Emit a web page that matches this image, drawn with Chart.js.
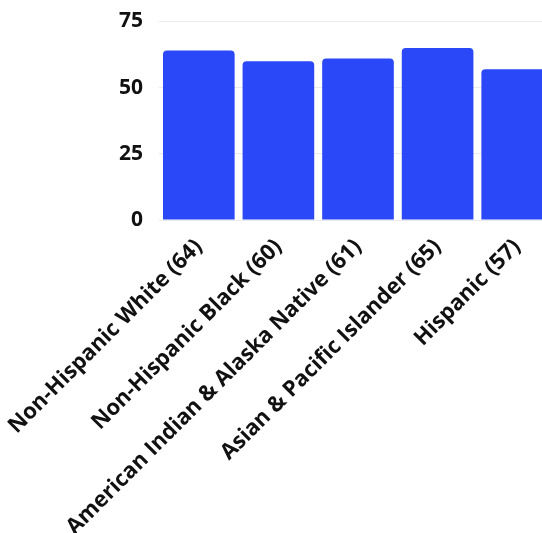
<!DOCTYPE html>
<html>
<head>
<meta charset="utf-8">
<script src="https://cdn.jsdelivr.net/npm/chart.js@4"></script>
<style>
  html, body { margin: 0; padding: 0; background: #fff; overflow: hidden; }
  #wrap { width: 557px; height: 533px; }
</style>
</head>
<body>
<div id="wrap"><canvas id="barChart" width="557" height="533"></canvas></div>
<script>
// categories and values
const groups = [
    "Non-Hispanic White (64)",
    "Non-Hispanic Black (60)",
    "American Indian & Alaska Native (61)",
    "Asian & Pacific Islander (65)",
    "Hispanic (57)"
];
const ages = [64, 60, 61, 65, 57];
const yTicks = [0, 25, 50, 75];

const xFont = { family: "Open Sans", weight: "bold", size: 22 };
const yFont = { family: "Open Sans", weight: "bold", size: 21 };

new Chart(document.getElementById("barChart"), {
    type: "bar",
    data: {
        labels: groups,
        datasets: [{
            data: ages,
            backgroundColor: "#2a47f8",
            borderRadius: 4,
            barPercentage: 0.9,
            categoryPercentage: 1
        }]
    },
    options: {
        responsive: false,
        animation: false,
        layout: { padding: { top: 21.5 } },
        plugins: { legend: { display: false }, tooltip: { enabled: false } },
        scales: {
            x: {
                grid: { display: false },
                border: { display: false },
                afterFit: axis => {
                    axis.height = 313;
                    axis.paddingLeft = 0;
                    axis.paddingRight = 0;
                },
                ticks: {
                    color: "#111",
                    font: xFont,
                    autoSkip: false,
                    minRotation: 45,
                    maxRotation: 45,
                    padding: 6
                }
            },
            y: {
                min: 0,
                max: 75,
                afterBuildTicks: axis => { axis.ticks = yTicks.map(v => ({ value: v })); },
                afterFit: axis => {
                    axis.width = 159;
                    axis.paddingTop = 0;
                    axis.paddingBottom = 0;
                },
                grid: { color: "#ebebeb", drawTicks: false },
                border: { display: false },
                ticks: { color: "#111", font: yFont, padding: 16 }
            }
        }
    }
});
</script>
</body>
</html>
